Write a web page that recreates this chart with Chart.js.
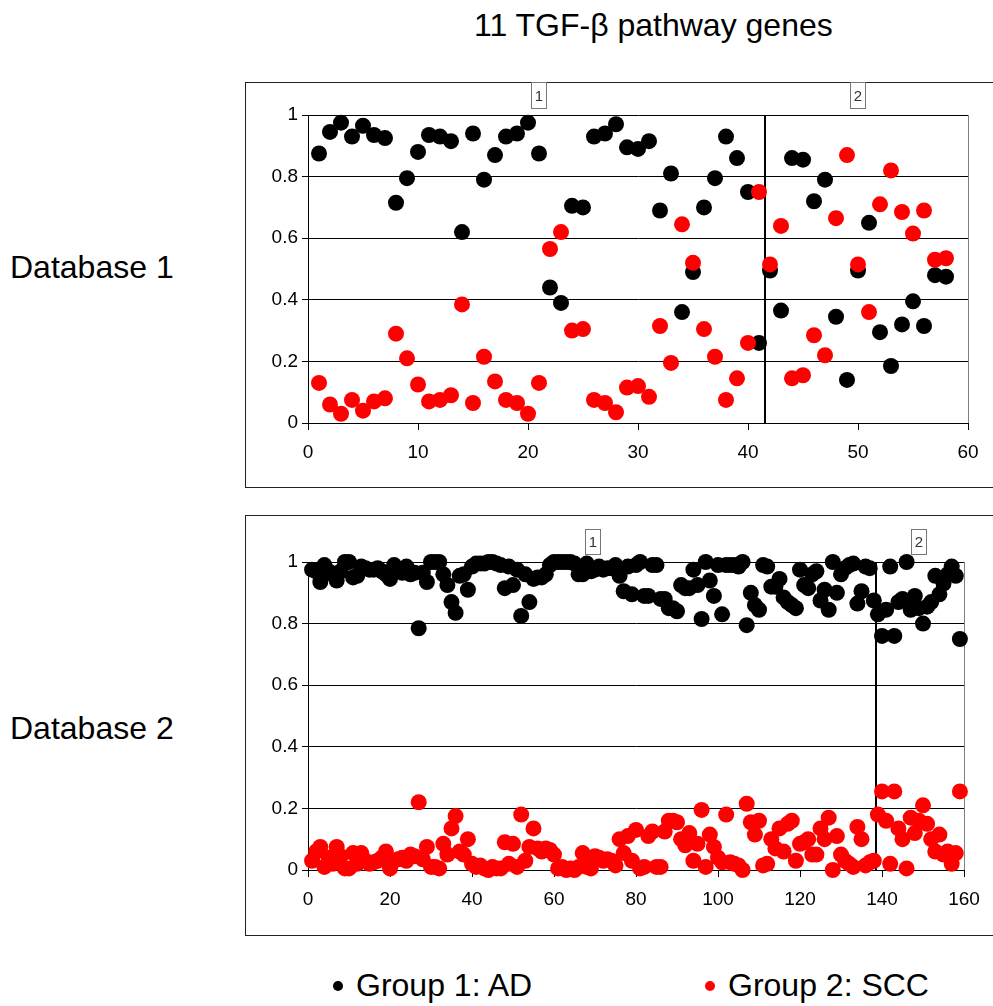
<!DOCTYPE html>
<html>
<head>
<meta charset="utf-8">
<script src="https://cdn.jsdelivr.net/npm/chart.js@4.4.1/dist/chart.umd.min.js"></script>
<style>
  html, body { margin: 0; padding: 0; background: #fff; overflow: hidden; width: 993px; height: 1006px;
    font-family: "Liberation Sans", Arial, sans-serif; }
  .txt { position: absolute; white-space: nowrap; color: #000; font-size: 32px; line-height: 1; }
  .frame { position: absolute; left: 245px; width: 760px; border: 1px solid #222; box-sizing: border-box; }
  #frame1 { top: 82px; height: 406px; }
  #frame2 { top: 515px; height: 421px; }
  canvas { position: absolute; left: 245px; }
  #chartDb1 { top: 82px; }
  #chartDb2 { top: 515px; }
  .dot { display: inline-block; width: 10px; height: 10px; border-radius: 50%; margin-right: 13px; vertical-align: middle; position: relative; top: -2px; }
</style>
</head>
<body>
<div class="txt" style="left:474px;top:9px;">11 TGF-β pathway genes</div>
<div class="txt" style="left:10px;top:251px;">Database 1</div>
<div class="txt" style="left:10px;top:712px;">Database 2</div>
<div class="frame" id="frame1"></div>
<div class="frame" id="frame2"></div>
<canvas id="chartDb1" width="748" height="405"></canvas>
<canvas id="chartDb2" width="748" height="420"></canvas>
<div class="txt" style="left:333px;top:969px;"><span class="dot" style="background:#000"></span>Group 1: AD</div>
<div class="txt" style="left:705px;top:969px;"><span class="dot" style="background:#ff0000"></span>Group 2: SCC</div>
<script>
// Database 1: 58 samples
const db1GroupAD = [0.875, 0.945, 0.975, 0.93, 0.965, 0.935, 0.925, 0.715, 0.795, 0.88,
  0.935, 0.93, 0.915, 0.62, 0.94, 0.79, 0.87, 0.93, 0.94, 0.975,
  0.875, 0.44, 0.39, 0.705, 0.70, 0.93, 0.94, 0.97, 0.895, 0.89,
  0.915, 0.69, 0.81, 0.36, 0.49, 0.70, 0.795, 0.93, 0.86, 0.75,
  0.26, 0.495, 0.365, 0.86, 0.855, 0.72, 0.79, 0.345, 0.14, 0.495,
  0.65, 0.295, 0.185, 0.32, 0.395, 0.315, 0.48, 0.475];
const db1GroupSCC = [0.13, 0.06, 0.03, 0.075, 0.04, 0.07, 0.08, 0.29, 0.21, 0.125,
  0.07, 0.075, 0.09, 0.385, 0.065, 0.215, 0.135, 0.075, 0.065, 0.03,
  0.13, 0.565, 0.62, 0.30, 0.305, 0.075, 0.065, 0.035, 0.115, 0.12,
  0.085, 0.315, 0.195, 0.645, 0.52, 0.305, 0.215, 0.075, 0.145, 0.26,
  0.75, 0.515, 0.64, 0.145, 0.155, 0.285, 0.22, 0.665, 0.87, 0.515,
  0.36, 0.71, 0.82, 0.685, 0.615, 0.69, 0.53, 0.535];

// Database 2: 159 samples
const db2GroupAD = [0.975, 0.97, 0.935, 0.99, 0.97, 0.96, 0.94, 0.97, 1.0, 1.0,
  0.95, 0.955, 0.985, 0.98, 0.975, 0.975, 0.98, 0.97, 0.96, 0.945,
  0.99, 0.975, 0.965, 0.985, 0.96, 0.965, 0.785, 0.965, 0.935, 1.0,
  1.0, 1.0, 0.96, 0.925, 0.87, 0.835, 0.955, 0.96, 0.91, 0.985,
  0.995, 0.995, 0.995, 1.0, 1.0, 0.995, 0.99, 0.915, 0.985, 0.925,
  0.975, 0.825, 0.96, 0.87, 0.945, 0.95, 0.95, 0.96, 0.99, 1.0,
  1.0, 1.0, 1.0, 1.0, 0.995, 0.96, 0.96, 0.995, 0.97, 0.975,
  0.985, 0.975, 0.98, 0.98, 0.99, 0.955, 0.905, 0.985, 0.895, 0.99,
  1.0, 0.89, 0.89, 0.99, 0.99, 0.88, 0.88, 0.85, 0.85, 0.84,
  0.925, 0.915, 0.915, 0.975, 0.925, 0.815, 1.0, 0.94, 0.89, 0.99,
  0.83, 0.99, 0.99, 0.99, 0.985, 1.0, 0.795, 0.9, 0.86, 0.845,
  0.99, 0.985, 0.92, 0.92, 0.945, 0.885, 0.87, 0.86, 0.85, 0.975,
  0.925, 0.915, 0.96, 0.97, 0.875, 0.91, 0.845, 1.0, 0.9, 0.96,
  0.98, 0.99, 0.995, 0.865, 0.905, 0.985, 0.98, 0.875, 0.83, 0.76,
  0.845, 0.985, 0.76, 0.87, 0.88, 1.0, 0.845, 0.89, 0.85, 0.8,
  0.855, 0.87, 0.955, 0.895, 0.93, 0.96, 0.985, 0.955, 0.75];
const db2GroupSCC = [0.03, 0.06, 0.075, 0.01, 0.04, 0.02, 0.075, 0.045, 0.005, 0.005,
  0.055, 0.02, 0.055, 0.03, 0.02, 0.025, 0.03, 0.04, 0.06, 0.005,
  0.03, 0.035, 0.04, 0.03, 0.05, 0.045, 0.22, 0.035, 0.075, 0.01,
  0.01, 0.005, 0.085, 0.05, 0.135, 0.175, 0.06, 0.05, 0.1, 0.02,
  0.01, 0.015, 0.005, 0.0, 0.01, 0.005, 0.005, 0.09, 0.02, 0.085,
  0.01, 0.18, 0.03, 0.075, 0.135, 0.07, 0.06, 0.07, 0.065, 0.05,
  0.005, 0.01, 0.0, 0.005, 0.0, 0.01, 0.055, 0.01, 0.005, 0.045,
  0.04, 0.03, 0.035, 0.03, 0.015, 0.1, 0.055, 0.11, 0.03, 0.13,
  0.005, 0.01, 0.11, 0.125, 0.01, 0.01, 0.125, 0.16, 0.16, 0.155,
  0.1, 0.08, 0.12, 0.03, 0.085, 0.195, 0.01, 0.115, 0.075, 0.04,
  0.025, 0.18, 0.025, 0.02, 0.015, 0.0, 0.215, 0.155, 0.115, 0.16,
  0.015, 0.02, 0.1, 0.07, 0.135, 0.06, 0.15, 0.16, 0.03, 0.085,
  0.09, 0.1, 0.05, 0.05, 0.135, 0.1, 0.17, 0.0, 0.11, 0.05,
  0.03, 0.02, 0.01, 0.14, 0.1, 0.015, 0.025, 0.03, 0.18, 0.255,
  0.16, 0.02, 0.255, 0.135, 0.1, 0.005, 0.17, 0.12, 0.16, 0.21,
  0.15, 0.1, 0.06, 0.115, 0.05, 0.06, 0.02, 0.055, 0.255];

// Separação dos grupos de amostras e rótulos
const groupLabels = ['1', '2'];
const db1Breaks = [41.5];
const db1LabelPos = [21, 50];
const db2Breaks = [138.5];
const db2LabelPos = [69.5, 149];
const yTicks = [0, 0.2, 0.4, 0.6, 0.8, 1];

function toPoints(arr) { return arr.map((v, i) => ({ x: i + 1, y: v })); }

// Linha vertical de separação, borda direita e caixinhas "1"/"2"
const markersPlugin = {
  id: 'markers',
  beforeDatasetsDraw(chart, args, opts) {
    const { ctx, chartArea, scales } = chart;
    ctx.save();
    ctx.strokeStyle = '#808080';
    ctx.lineWidth = 1;
    ctx.beginPath();
    ctx.moveTo(Math.round(chartArea.right) + 0.5, chartArea.top);
    ctx.lineTo(Math.round(chartArea.right) + 0.5, chartArea.bottom);
    ctx.stroke();
    ctx.strokeStyle = '#000';
    ctx.lineWidth = 2;
    opts.breaks.forEach(b => {
      const px = Math.round(scales.x.getPixelForValue(b));
      ctx.beginPath();
      ctx.moveTo(px, chartArea.top);
      ctx.lineTo(px, chartArea.bottom);
      ctx.stroke();
    });
    ctx.restore();
  },
  afterDraw(chart, args, opts) {
    const { ctx, chartArea, scales } = chart;
    ctx.save();
    ctx.font = '15px "Liberation Sans", Arial, sans-serif';
    ctx.textAlign = 'center';
    ctx.textBaseline = 'middle';
    opts.labelPos.forEach((pos, i) => {
      const cx = Math.round(scales.x.getPixelForValue(pos));
      const top = chartArea.top - opts.boxGap - opts.boxH;
      ctx.fillStyle = '#fff';
      ctx.fillRect(cx - 8, top, 16, opts.boxH);
      ctx.strokeStyle = '#777';
      ctx.lineWidth = 1;
      ctx.strokeRect(cx - 7.5, top + 0.5, 15, opts.boxH - 1);
      ctx.fillStyle = '#333';
      ctx.fillText(groupLabels[i], cx, top + opts.boxH / 2 + 1);
    });
    ctx.restore();
  }
};

function makeOptions(xMax, xStep, pad, xHeight, breaks, labelPos, boxGap, boxH) {
  const tickFont = { family: '"Liberation Sans", Arial, sans-serif', size: 19 };
  return {
    responsive: false,
    animation: false,
    events: [],
    devicePixelRatio: 1,
    layout: { padding: pad },
    plugins: {
      legend: { display: false },
      tooltip: { enabled: false },
      markers: { breaks: breaks, labelPos: labelPos, boxGap: boxGap, boxH: boxH }
    },
    scales: {
      x: {
        type: 'linear', min: 0, max: xMax,
        afterFit(scale) { scale.height = xHeight; },
        ticks: { stepSize: xStep, color: '#000', font: tickFont, padding: 11, maxRotation: 0 },
        grid: { drawOnChartArea: false, drawTicks: true, tickLength: 7, color: '#000' },
        border: { color: '#000', width: 1 }
      },
      y: {
        min: 0, max: 1,
        afterFit(scale) { scale.width = 63; },
        afterBuildTicks(scale) { scale.ticks = yTicks.map(v => ({ value: v })); },
        ticks: { color: '#000', font: tickFont, padding: 4, callback: v => String(+v.toFixed(1)) },
        grid: { color: '#000', lineWidth: 1, tickLength: 6 },
        border: { color: '#000', width: 1 }
      }
    }
  };
}

function makeChart(id, ad, scc, opts) {
  return new Chart(document.getElementById(id).getContext('2d'), {
    type: 'scatter',
    data: {
      datasets: [
        { label: 'Group 2: SCC', data: toPoints(scc), backgroundColor: '#ff0000', borderWidth: 0,
          pointRadius: 8, pointHoverRadius: 8, clip: false, order: 0 },
        { label: 'Group 1: AD', data: toPoints(ad), backgroundColor: '#000', borderWidth: 0,
          pointRadius: 8, pointHoverRadius: 8, clip: false, order: 1 }
      ]
    },
    options: opts,
    plugins: [markersPlugin]
  });
}

makeChart('chartDb1', db1GroupAD, db1GroupSCC,
  makeOptions(60, 10, { left: 0, top: 33, right: 25, bottom: 0 }, 64, db1Breaks, db1LabelPos, 6, 27));
makeChart('chartDb2', db2GroupAD, db2GroupSCC,
  makeOptions(160, 20, { left: 0, top: 47, right: 29, bottom: 0 }, 65, db2Breaks, db2LabelPos, 7, 26));
</script>
</body>
</html>
